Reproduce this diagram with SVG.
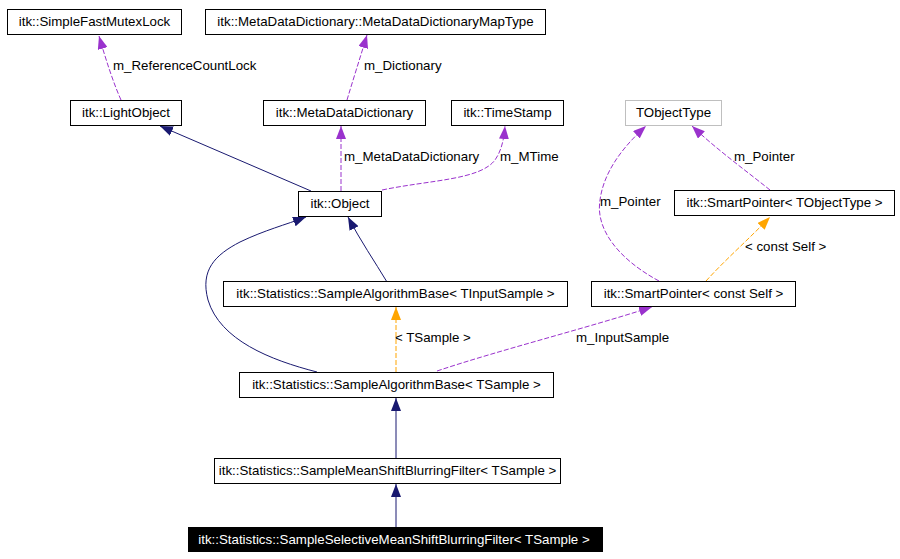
<svg xmlns="http://www.w3.org/2000/svg" width="900" height="559" viewBox="0 0 900 559">
<style>
text{font-family:"Liberation Sans",Arial,Helvetica,sans-serif;font-size:13.3px;fill:#000}
.node rect{fill:#fff;stroke:#000;stroke-width:1}
.node text{text-anchor:middle}
.inh{fill:none;stroke:#191970;stroke-width:1}
.use{fill:none;stroke:#9a32cd;stroke-width:1;stroke-dasharray:5,2}
.tpl{fill:none;stroke:#ffa500;stroke-width:1;stroke-dasharray:5,2}
</style>
<defs>
<marker id="aN" viewBox="0 0 13 10" refX="13" refY="5" markerWidth="13" markerHeight="10" markerUnits="userSpaceOnUse" orient="auto"><path d="M0,0 L13,5 L0,10 z" fill="#191970"/></marker>
<marker id="aP" viewBox="0 0 13 10" refX="13" refY="5" markerWidth="13" markerHeight="10" markerUnits="userSpaceOnUse" orient="auto"><path d="M0,0 L13,5 L0,10 z" fill="#9a32cd"/></marker>
<marker id="aO" viewBox="0 0 13 10" refX="13" refY="5" markerWidth="13" markerHeight="10" markerUnits="userSpaceOnUse" orient="auto"><path d="M0,0 L13,5 L0,10 z" fill="#ffa500"/></marker>
</defs>
<rect width="900" height="559" fill="#fff"/>
<g id="connectors">
<path class="use" d="M121,100 C113,82 106,60 99,36" marker-end="url(#aP)"/>
<path class="use" d="M347,100 C353,80 360,58 367,35" marker-end="url(#aP)"/>
<path class="inh" d="M311,191 L160,126" marker-end="url(#aN)"/>
<path class="use" d="M341,191 L341,126" marker-end="url(#aP)"/>
<path class="use" d="M382,190 C430,180 480,180 495,160 C502,150 504,138 505,126" marker-end="url(#aP)"/>
<path class="use" d="M770,190 C745,170 715,148 692,126" marker-end="url(#aP)"/>
<path class="use" d="M659,281 C620,260 595,230 600,200 C604,170 625,145 646,126" marker-end="url(#aP)"/>
<path class="tpl" d="M706,281 C725,260 750,238 770,217" marker-end="url(#aO)"/>
<path class="inh" d="M387,282 C375,262 360,240 348,217" marker-end="url(#aN)"/>
<path class="inh" d="M317,372 C270,360 220,340 208,300 C200,270 215,255 240,242 C265,230 285,225 306,217" marker-end="url(#aN)"/>
<path class="tpl" d="M396,372 L396,307" marker-end="url(#aO)"/>
<path class="use" d="M437,371 C500,350 580,330 652,307" marker-end="url(#aP)"/>
<path class="inh" d="M396,458 L396,398" marker-end="url(#aN)"/>
<path class="inh" d="M396,527 L396,484" marker-end="url(#aN)"/>
<text x="113" y="70">m_ReferenceCountLock</text>
<text x="364" y="70">m_Dictionary</text>
<text x="344" y="161">m_MetaDataDictionary</text>
<text x="500" y="161">m_MTime</text>
<text x="734" y="161">m_Pointer</text>
<text x="600" y="206">m_Pointer</text>
<text x="745" y="251">&lt; const Self &gt;</text>
<text x="395" y="342">&lt; TSample &gt;</text>
<text x="576" y="342">m_InputSample</text>
</g>
<g id="n_sfml" class="node"><rect x="7.5" y="9.5" width="174" height="25"/><text x="94.5" y="26">itk::SimpleFastMutexLock</text></g>
<g id="n_maptype" class="node"><rect x="205.5" y="9.5" width="340" height="25"/><text x="375.5" y="26">itk::MetaDataDictionary::MetaDataDictionaryMapType</text></g>
<g id="n_light" class="node"><rect x="70.5" y="100.5" width="111" height="25"/><text x="126" y="117">itk::LightObject</text></g>
<g id="n_mdd" class="node"><rect x="263.5" y="100.5" width="162" height="25"/><text x="344.5" y="117">itk::MetaDataDictionary</text></g>
<g id="n_ts" class="node"><rect x="451.5" y="100.5" width="112" height="25"/><text x="507.5" y="117">itk::TimeStamp</text></g>
<g id="n_tobj" class="node"><rect x="625.5" y="100.5" width="96" height="25" style="stroke:#bfbfbf"/><text x="673.5" y="117">TObjectType</text></g>
<g id="n_obj" class="node"><rect x="298.5" y="191.5" width="83" height="25"/><text x="340" y="208">itk::Object</text></g>
<g id="n_spt" class="node"><rect x="674.5" y="190.5" width="220" height="25"/><text x="784.5" y="207">itk::SmartPointer&lt; TObjectType &gt;</text></g>
<g id="n_sabi" class="node"><rect x="223.5" y="281.5" width="344" height="25"/><text x="395.5" y="298">itk::Statistics::SampleAlgorithmBase&lt; TInputSample &gt;</text></g>
<g id="n_spc" class="node"><rect x="591.5" y="281.5" width="204" height="25"/><text x="693.5" y="298">itk::SmartPointer&lt; const Self &gt;</text></g>
<g id="n_sabt" class="node"><rect x="239.5" y="372.5" width="314" height="25"/><text x="396.5" y="389">itk::Statistics::SampleAlgorithmBase&lt; TSample &gt;</text></g>
<g id="n_smsbf" class="node"><rect x="214.5" y="458.5" width="346" height="25"/><text x="387.5" y="475">itk::Statistics::SampleMeanShiftBlurringFilter&lt; TSample &gt;</text></g>
<g id="n_ssmsbf" class="node"><rect x="188.5" y="527.5" width="414" height="24" style="fill:#000"/><text x="394" y="544" style="fill:#fff">itk::Statistics::SampleSelectiveMeanShiftBlurringFilter&lt; TSample &gt;</text></g>
</svg>
